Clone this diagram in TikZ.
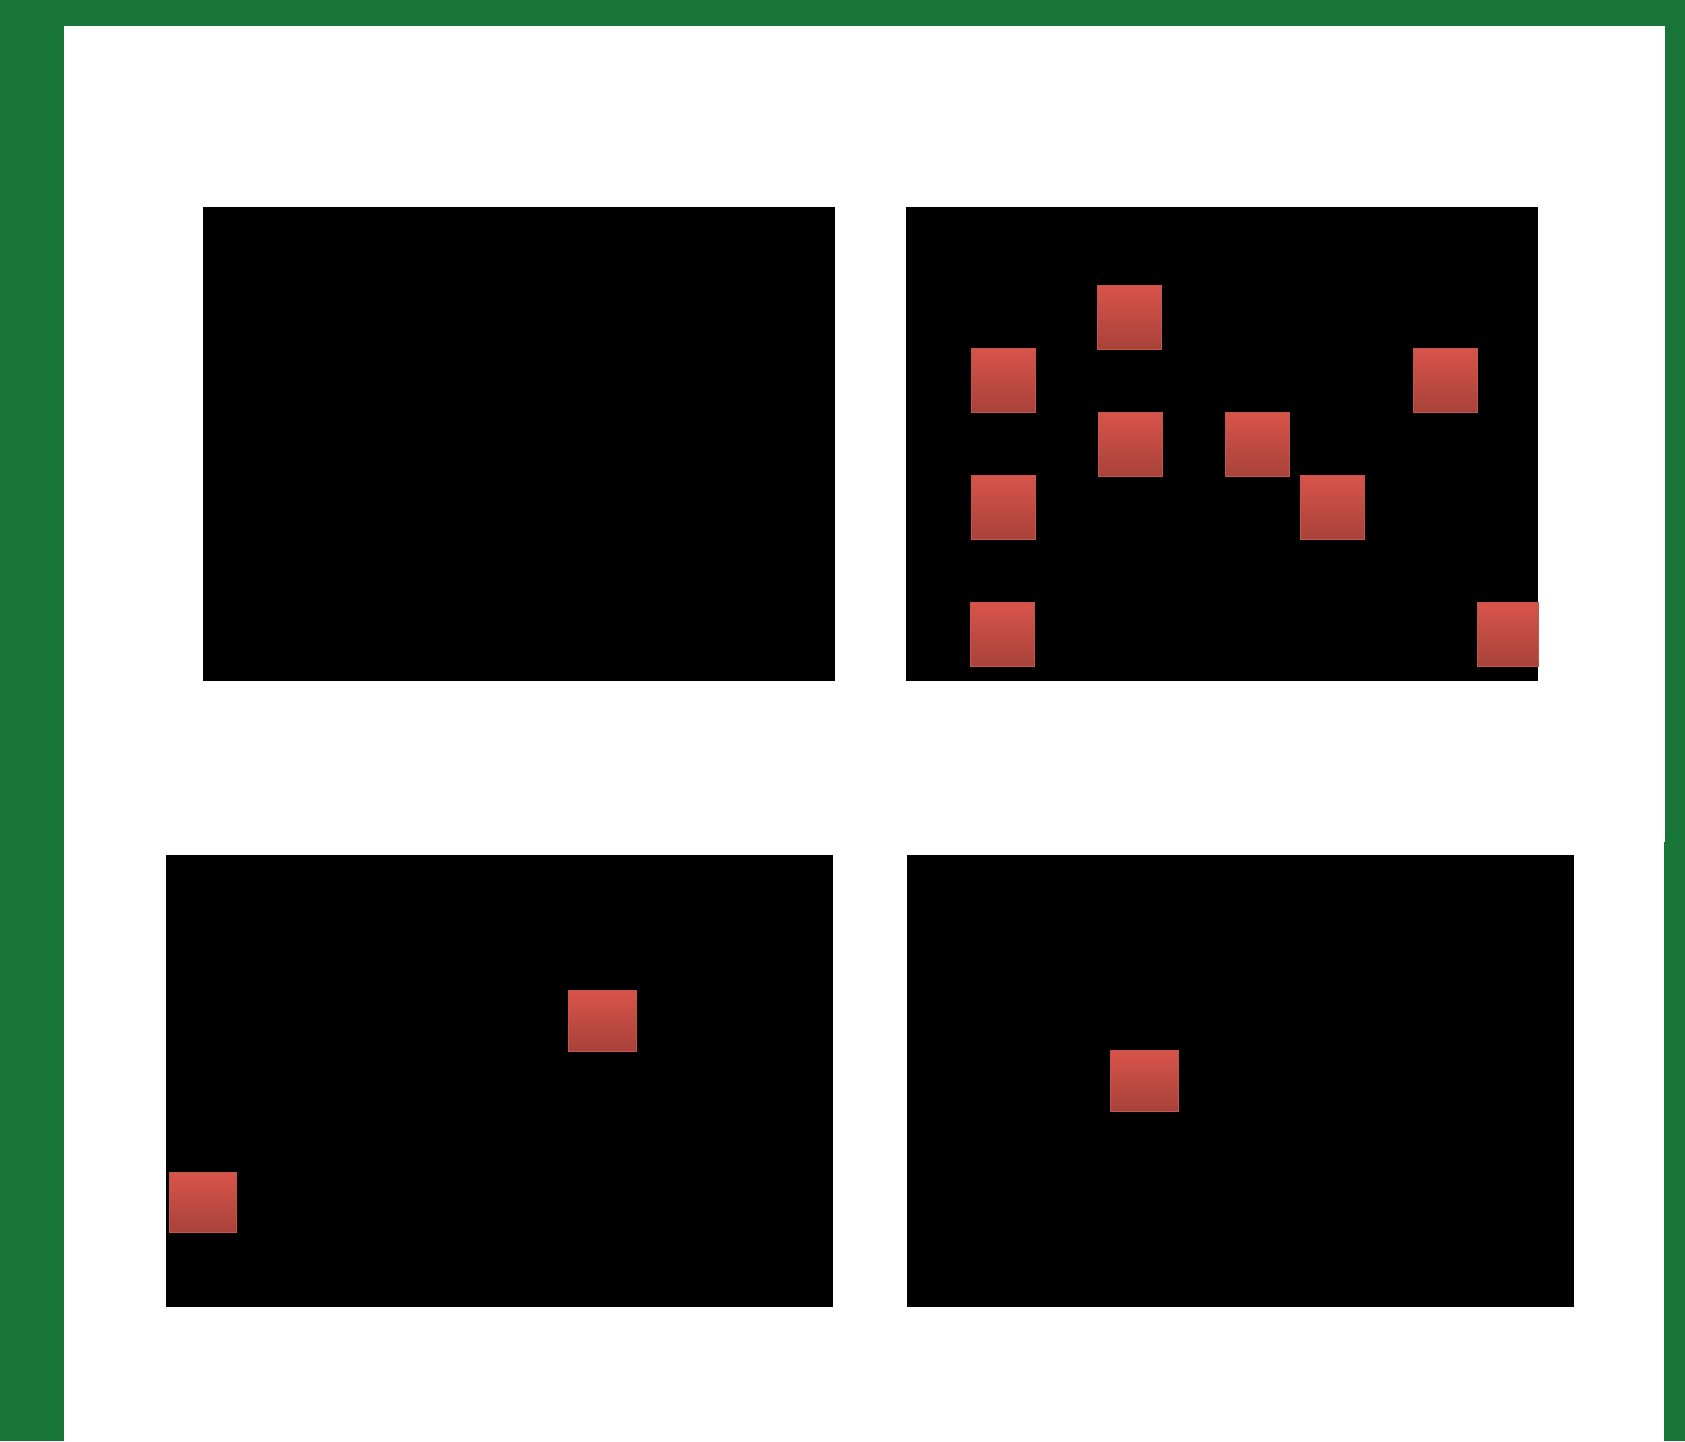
\documentclass[tikz,border=0pt]{standalone}
\begin{document}
\begin{tikzpicture}[x=1pt,y=-1pt,
  frame/.style={fill=frameGreen},
  panel/.style={fill=black},
  redsq/.style={top color=sqTop,bottom color=sqBot,draw=sqEdge,line width=0.8pt}]
\definecolor{frameGreen}{HTML}{167537}
\definecolor{sqTop}{HTML}{D8544A}
\definecolor{sqBot}{HTML}{A8423A}
\definecolor{sqEdge}{HTML}{C4574D}
\useasboundingbox (0,0) rectangle (1685,1441);
\fill[white] (0,0) rectangle (1685,1441);
% green frame
\fill[frame] (0,0) rectangle (1685,26);
\fill[frame] (0,0) rectangle (64,1441);
\fill[frame] (1665,0) rectangle (1685,842);
\fill[frame] (1664,842) rectangle (1685,1441);
% panels
\fill[panel] (203,207) rectangle (835,681);
\fill[panel] (906,207) rectangle (1538,681);
\fill[panel] (166,855) rectangle (833,1307);
\fill[panel] (907,855) rectangle (1574,1307);
% top-right squares
\shade[redsq] (1097,285) rectangle (1161,349);
\shade[redsq] (971,348) rectangle (1035,412);
\shade[redsq] (1413,348) rectangle (1477,412);
\shade[redsq] (1098,412) rectangle (1162,476);
\shade[redsq] (1225,412) rectangle (1289,476);
\shade[redsq] (971,475) rectangle (1035,539);
\shade[redsq] (1300,475) rectangle (1364,539);
\shade[redsq] (970,602) rectangle (1034,666);
\shade[redsq] (1477,602) rectangle (1538,666);
% bottom-left squares
\shade[redsq] (568,990) rectangle (636,1051);
\shade[redsq] (169,1172) rectangle (236,1232);
% bottom-right square
\shade[redsq] (1110,1050) rectangle (1178,1111);
\end{tikzpicture}
\end{document}
